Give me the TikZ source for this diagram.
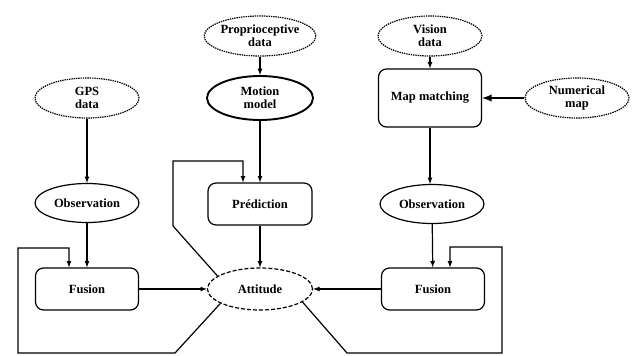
\documentclass[tikz,border=0pt]{standalone}
\usepackage{fontspec}
\setmainfont{Liberation Serif}
\usepackage{tikz}
\usetikzlibrary{arrows, shapes.geometric}

\begin{document}
\begin{tikzpicture}[x=1pt,y=-1pt,>=latex,node distance=62pt,line width=1.2pt,
    font=\bfseries\fontsize{12.5}{13}\selectfont]
  \tikzstyle{sensor}=[draw,ellipse,line width=1.2pt,dash pattern=on 1.4pt off 0.9pt,
    align=center,inner sep=0pt,minimum width=104pt,minimum height=40pt]
  \tikzstyle{estim}=[draw,ellipse,line width=1.2pt,align=center,inner sep=0pt,
    minimum width=104pt,minimum height=39pt]
  \tikzstyle{block}=[draw,rectangle,rounded corners=8pt,line width=1.2pt,
    minimum width=103pt,minimum height=42pt]

  \useasboundingbox (0,0) rectangle (632,356);

  \node[sensor]                       (proprio)  at (260,36)                    {Proprioceptive\\data};
  \node[sensor]                       (vision)   at (430,36)                    {Vision\\data};
  \node[estim,line width=1.9pt,minimum width=106pt,minimum height=44pt]
                                      (motion)   [below of=proprio]             {Motion\\model};
  \node[block,minimum height=58pt]    (mapmatch) [below of=vision]              {Map matching};
  \node[sensor]                       (gps)      [left of=motion,node distance=173pt]   {GPS\\data};
  \node[sensor]                       (nummap)   [right of=mapmatch,node distance=147pt] {Numerical\\map};
  \node[estim]                        (obsgps)   [below of=gps,node distance=105pt]      {Observation};
  \node[block,minimum width=104pt]    (predict)  [below of=motion,node distance=106pt]   {Prédiction};
  \node[estim]                        (obsvis)   [right of=predict,node distance=172pt]  {Observation};
  \node[block]                        (fusgps)   [below of=obsgps,node distance=86pt]    {Fusion};
  \node[estim,dash pattern=on 4pt off 2pt,minimum width=105pt,minimum height=42pt]
                                      (attitude) [below of=predict,node distance=85pt]   {Attitude};
  \node[block]                        (fusvis)   [right of=attitude,node distance=173pt] {Fusion};

  \path[->]
  (proprio)  edge (motion)
  (vision)   edge (mapmatch)
  (gps)      edge (obsgps)
  (motion)   edge (predict)
  (mapmatch) edge (mapmatch |- obsvis.north)
  (obsgps)   edge (fusgps)
  (predict)  edge (attitude)
  (obsvis)   edge (fusvis)
  (fusgps)   edge (attitude)
  (fusvis)   edge (attitude)
  ;
  \draw[->,line width=2.2pt] (nummap) -- (mapmatch);

  % feedback of the attitude
  \draw[->] (attitude.200) -- (175,353) -| (18,248) -| ([xshift=-18pt]fusgps.north);
  \draw[->] (attitude.163) -- (173,226) -- (173,161) -| ([xshift=-17pt]predict.north);
  \draw[->] (attitude.-17) -- (347,353) -| (502,247) -| ([xshift=17pt]fusvis.north);
\end{tikzpicture}
\end{document}
